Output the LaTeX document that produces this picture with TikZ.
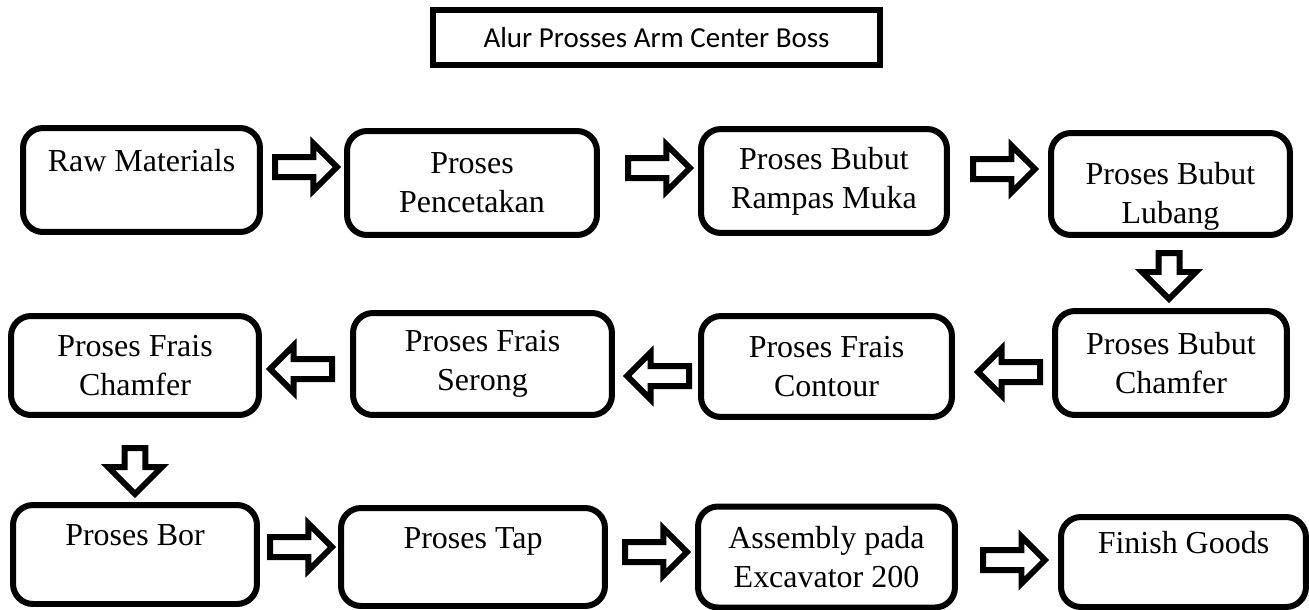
\documentclass[tikz,border=0pt]{standalone}
\usepackage{fontspec}
\setmainfont{Liberation Serif}
\newfontfamily\titlefont{Carlito}
\usetikzlibrary{shapes.arrows}

\begin{document}
\begin{tikzpicture}[x=0.02cm, y=-0.02cm,
        stepbox/.style={draw, line width=0.12cm, rounded corners=0.4cm, align=center,
            inner sep=0pt, font=\fontsize{18.2}{22}\selectfont,
            execute at begin node={\rule{0pt}{18.5pt}}},
        titlebox/.style={draw, line width=0.12cm, inner sep=0pt,
            font=\titlefont\fontsize{16.5}{19}\selectfont},
        flow/.style={single arrow, draw, fill=white, line width=0.12cm, anchor=tail,
            inner xsep=0pt, inner ysep=0.14cm, minimum height=1.24cm,
            single arrow head extend=0.27cm},
        flowdown/.style={flow, rotate=-90, inner ysep=0.15cm, minimum height=0.92cm,
            single arrow head extend=0.33cm}]
        \useasboundingbox (0,0) rectangle (1309,609);

        \node[titlebox, minimum width=8.94cm, minimum height=1.1cm] (title) at (656.5,37.5) {Alur Prosses Arm Center Boss};

        \node[stepbox, minimum width=4.74cm, minimum height=2.08cm] (raw) at (141.5,180) {Raw Materials\\ \mbox{}};
        \node[stepbox, minimum width=5.00cm, minimum height=2.08cm] (cetak) at (472,183) {Proses\\ Pencetakan};
        \node[stepbox, minimum width=4.92cm, minimum height=2.08cm] (rampas) at (824,181) {Proses Bubut\\ Rampas Muka};
        \node[stepbox, minimum width=4.78cm, minimum height=2.04cm] (lubang) at (1170.5,184) {\rule{0pt}{26.5pt}Proses Bubut\\ Lubang};

        \node[stepbox, minimum width=4.64cm, minimum height=2.08cm] (bchamfer) at (1171,363) {Proses Bubut\\ Chamfer};
        \node[stepbox, minimum width=5.02cm, minimum height=2.02cm] (contour) at (826.5,366.5) {Proses Frais\\ Contour};
        \node[stepbox, minimum width=5.18cm, minimum height=2.04cm] (serong) at (482.5,364) {Proses Frais\\ Serong};
        \node[stepbox, minimum width=4.96cm, minimum height=1.98cm] (fchamfer) at (135,365.5) {Proses Frais\\ Chamfer};

        \node[stepbox, minimum width=4.88cm, minimum height=1.98cm] (bor) at (135,554.5) {Proses Bor\\ \mbox{}};
        \node[stepbox, minimum width=5.28cm, minimum height=1.96cm] (tap) at (473,557) {Proses Tap\\ \mbox{}};
        \node[stepbox, minimum width=5.14cm, minimum height=2.02cm] (assembly) at (826.5,557) {Assembly pada\\ Excavator 200};
        \node[stepbox, minimum width=4.90cm, minimum height=1.80cm] (finish) at (1183.5,562) {Finish Goods\\ \mbox{}};

        \node[flow] (a1) at (272,167) {};
        \node[flow] (a2) at (625,168) {};
        \node[flow] (a3) at (970,169) {};
        \node[flowdown] (d1) at (1169,250) {};
        \node[flow, rotate=180] (b1) at (1043,372) {};
        \node[flow, rotate=180] (b2) at (692,376) {};
        \node[flow, rotate=180] (b3) at (335,369) {};
        \node[flowdown] (d2) at (135,445) {};
        \node[flow] (c1) at (267,547) {};
        \node[flow] (c2) at (622,552) {};
        \node[flow] (c3) at (980,560) {};
    \end{tikzpicture}
\end{document}
